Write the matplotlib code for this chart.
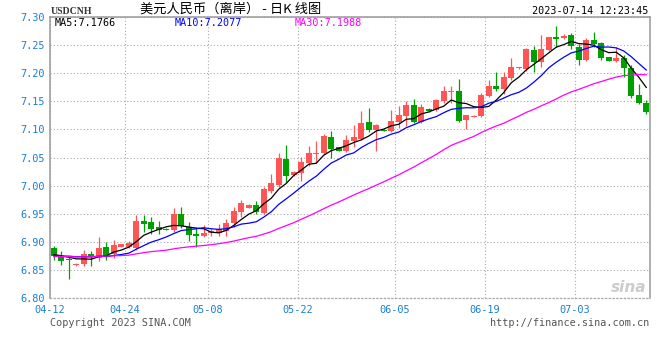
import numpy as np
import pandas as pd
import matplotlib
matplotlib.use("Agg")
import matplotlib.pyplot as plt

# daily candles, 2023-04-12 .. 2023-07-14
opens = [6.8884, 6.8747, 6.8689, 6.8587, 6.8605, 6.8783, 6.8706, 6.8907, 6.8783, 6.8913,
         6.8907, 6.8890, 6.9375, 6.9352, 6.9263, 6.9233, 6.9210, 6.9495, 6.9269, 6.9139,
         6.9103, 6.9153, 6.9151, 6.9198, 6.9340, 6.9536, 6.9607, 6.9655, 6.9518, 6.9909,
         7.0011, 7.0467, 7.0183, 7.0230, 7.0407, 7.0566, 7.0585, 7.0859, 7.0681, 7.0621,
         7.0800, 7.0829, 7.1132, 7.0989, 7.0995, 7.0977, 7.1137, 7.1244, 7.1429, 7.1137,
         7.1363, 7.1345, 7.1511, 7.1671, 7.1683, 7.1167, 7.1221, 7.1244, 7.1594, 7.1772,
         7.1719, 7.1909, 7.2087, 7.2069, 7.2413, 7.2205, 7.2413, 7.2639, 7.2621, 7.2680,
         7.2472, 7.2235, 7.2591, 7.2532, 7.2283, 7.2223, 7.2265, 7.2098, 7.1612, 7.1475]
highs = [6.8925, 6.8836, 6.8747, 6.8628, 6.8854, 6.8836, 6.9080, 6.8991, 6.9032, 6.8967,
         6.9010, 6.9471, 6.9471, 6.9447, 6.9370, 6.9240, 6.9601, 6.9619, 6.9358, 6.9258,
         6.9294, 6.9219, 6.9317, 6.9400, 6.9625, 6.9744, 6.9672, 6.9726, 6.9980, 7.0206,
         7.0575, 7.0722, 7.0260, 7.0504, 7.0705, 7.0794, 7.0918, 7.0977, 7.0693, 7.0900,
         7.1078, 7.1333, 7.1386, 7.1090, 7.1005, 7.1345, 7.1416, 7.1505, 7.1541, 7.1452,
         7.1381, 7.1535, 7.1778, 7.1772, 7.1897, 7.1256, 7.1250, 7.1653, 7.1879, 7.2016,
         7.2016, 7.2276, 7.2117, 7.2454, 7.2484, 7.2680, 7.2639, 7.2840, 7.2692, 7.2721,
         7.2514, 7.2621, 7.2728, 7.2561, 7.2289, 7.2472, 7.2324, 7.2146, 7.1808, 7.1523]
lows = [6.8676, 6.8587, 6.8333, 6.8575, 6.8575, 6.8575, 6.8664, 6.8676, 6.8706, 6.8907,
        6.8890, 6.8854, 6.9180, 6.9139, 6.9133, 6.9210, 6.9180, 6.9251, 6.9020, 6.8913,
        6.9080, 6.9112, 6.9109, 6.9109, 6.9269, 6.9447, 6.9601, 6.9495, 6.9495, 6.9874,
        6.9980, 7.0069, 7.0171, 7.0087, 7.0349, 7.0397, 7.0562, 7.0496, 7.0607, 7.0603,
        7.0692, 7.0811, 7.0960, 7.0621, 7.0970, 7.0960, 7.1020, 7.1066, 7.1114, 7.1108,
        7.1315, 7.1333, 7.1464, 7.1464, 7.1137, 7.1007, 7.1215, 7.1226, 7.1582, 7.1683,
        7.1630, 7.1879, 7.2081, 7.2046, 7.2027, 7.2116, 7.2401, 7.2472, 7.2609, 7.2425,
        7.2146, 7.2223, 7.2472, 7.2235, 7.2217, 7.2205, 7.1938, 7.1564, 7.1447, 7.1269]
closes = [6.8747, 6.8664, 6.8671, 6.8610, 6.8783, 6.8724, 6.8890, 6.8747, 6.8943, 6.8961,
          6.8985, 6.9370, 6.9317, 6.9228, 6.9204, 6.9215, 6.9495, 6.9281, 6.9121, 6.9103,
          6.9162, 6.9188, 6.9222, 6.9340, 6.9548, 6.9685, 6.9660, 6.9536, 6.9945, 7.0052,
          7.0491, 7.0171, 7.0242, 7.0420, 7.0575, 7.0580, 7.0883, 7.0651, 7.0621, 7.0811,
          7.0865, 7.1119, 7.0989, 7.1078, 7.0977, 7.1155, 7.1256, 7.1434, 7.1137, 7.1393,
          7.1333, 7.1523, 7.1683, 7.1683, 7.1155, 7.1256, 7.1244, 7.1612, 7.1778, 7.1719,
          7.1927, 7.2115, 7.2105, 7.2431, 7.2205, 7.2431, 7.2639, 7.2609, 7.2662, 7.2490,
          7.2235, 7.2591, 7.2514, 7.2265, 7.2223, 7.2276, 7.2087, 7.1594, 7.1464, 7.1315]

# closes before the window, only needed to seed the moving averages
prior_closes = [6.868, 6.874, 6.880, 6.871, 6.866, 6.862, 6.870, 6.878, 6.882, 6.876,
                6.869, 6.864, 6.872, 6.879, 6.884, 6.877, 6.870, 6.866, 6.873, 6.880,
                6.876, 6.868, 6.872, 6.879, 6.874, 6.877, 6.881, 6.875, 6.879]

tick_labels = ["04-12", "04-24", "05-08", "05-22", "06-05", "06-19", "07-03"]
tick_index = [0, 10, 21, 33, 46, 58, 70]

title = "美元人民币（离岸） - 日K 线图"
symbol = "USDCNH"
stamp = "2023-07-14 12:23:45"
ma_labels = ["MA5:7.1766", "MA10:7.2077", "MA30:7.1988"]

RED = "#ff5555"
GREEN = "#00a000"
BLUE_TXT = "#1a7fd4"
MONO = "DejaVu Sans Mono"

W, H = 660, 360


def px(x, y):
    return x / W, 1 - y / H


fig = plt.figure(figsize=(W / 100, H / 100), dpi=100)
ax = fig.add_axes([50 / W, 62 / H, 600 / W, 281 / H])

n = len(closes)
xs = np.arange(n)
o = np.array(opens)
c = np.array(closes)
up = c >= o
cols = np.where(up, RED, GREEN)

ax.vlines(xs, lows, highs, colors=cols, linewidth=0.9, zorder=3)
body_lo = np.minimum(o, c)
body_h = np.maximum(np.abs(c - o), 0.0016)
ax.bar(xs, body_h, bottom=body_lo, width=0.8, color=cols, linewidth=0, zorder=4)

all_close = pd.Series(prior_closes + closes)
for win, col in [(5, "black"), (10, "#0000ff"), (30, "#ff00ff")]:
    ma = all_close.rolling(win).mean().to_numpy()[len(prior_closes):]
    ax.plot(xs, ma, color=col, linewidth=0.9, zorder=5)

ax.set_xlim(-0.5, n - 0.5)
ax.set_ylim(6.80, 7.30)
yt = np.arange(6.80, 7.3001, 0.05)
ax.set_yticks(yt)
ax.set_yticklabels([f"{v:.2f}" for v in yt])
ax.set_xticks([i - 0.5 for i in tick_index])
ax.set_xticklabels(tick_labels)
ax.tick_params(length=0, labelsize=7.4, labelcolor=BLUE_TXT, pad=4)
ax.tick_params(axis="x", pad=5)
for lab in ax.get_xticklabels() + ax.get_yticklabels():
    lab.set_fontfamily(MONO)

ax.grid(True, color="#aaaaaa", linestyle=(0, (1, 2)), linewidth=0.8, zorder=0)
for side in ["left", "right", "top"]:
    ax.spines[side].set_color("#999999")
    ax.spines[side].set_linewidth(1.1)
ax.spines["bottom"].set_color("#aaaaaa")
ax.spines["bottom"].set_linestyle((0, (1, 2)))
ax.spines["bottom"].set_linewidth(0.9)

# header texts
fig.text(*px(51, 11), symbol, family="Liberation Serif", fontsize=7, weight="bold",
         color="#333333", va="center", ha="left")
fig.text(*px(231, 9), title, family=["Noto Sans CJK SC", "DejaVu Sans"], fontsize=9.5,
         color="black", va="center", ha="center")
fig.text(*px(648, 11), stamp, family=MONO, fontsize=7.3, color="black",
         va="center", ha="right")
for lab, x0, col in zip(ma_labels, [55, 175, 295], ["black", "#0000ff", "#ff00ff"]):
    fig.text(*px(x0, 23), lab, family=MONO, fontsize=7.3, color=col,
             va="center", ha="left")

# footer
fig.text(*px(50, 323), "Copyright 2023 SINA.COM", family=MONO, fontsize=7.3,
         color="#555555", va="center", ha="left")
fig.text(*px(649, 323), "http://finance.sina.com.cn", family=MONO, fontsize=7.3,
         color="#555555", va="center", ha="right")
fig.text(*px(646, 288), "sina", family="DejaVu Sans", fontsize=11, style="italic",
         weight="bold", color="#cccccc", va="center", ha="right")

fig.savefig("out.png", dpi=100)
